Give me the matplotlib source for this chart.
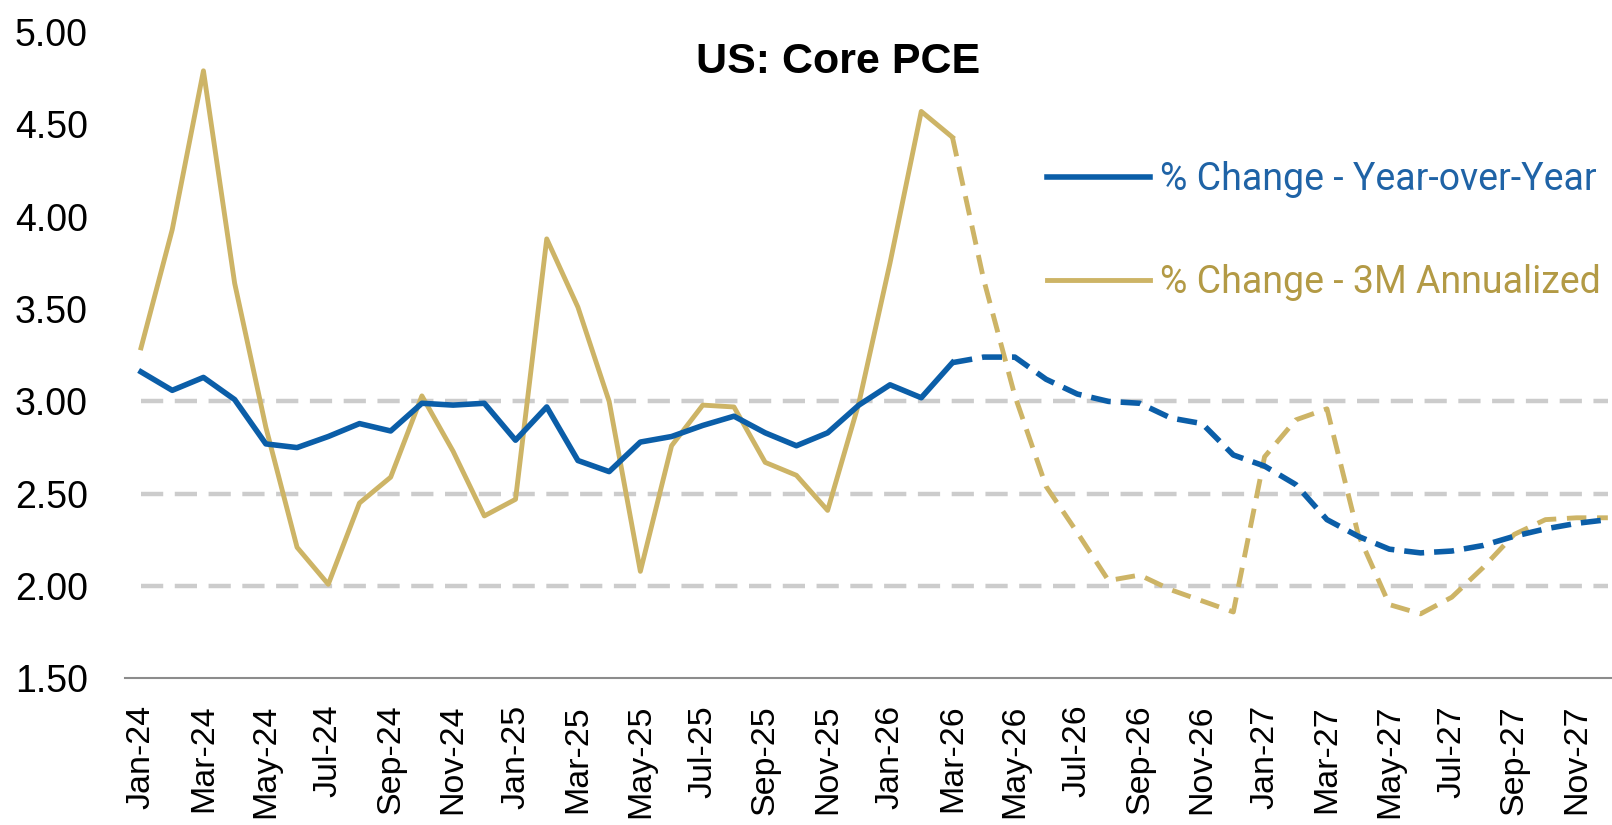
import numpy as np
import matplotlib.pyplot as plt
from matplotlib.lines import Line2D

# monthly labels Jan-24 .. Dec-27
months = ["Jan-24", "Feb-24", "Mar-24", "Apr-24", "May-24", "Jun-24", "Jul-24", "Aug-24",
          "Sep-24", "Oct-24", "Nov-24", "Dec-24", "Jan-25", "Feb-25", "Mar-25", "Apr-25",
          "May-25", "Jun-25", "Jul-25", "Aug-25", "Sep-25", "Oct-25", "Nov-25", "Dec-25",
          "Jan-26", "Feb-26", "Mar-26", "Apr-26", "May-26", "Jun-26", "Jul-26", "Aug-26",
          "Sep-26", "Oct-26", "Nov-26", "Dec-26", "Jan-27", "Feb-27", "Mar-27", "Apr-27",
          "May-27", "Jun-27", "Jul-27", "Aug-27", "Sep-27", "Oct-27", "Nov-27", "Dec-27"]

yoy = [3.16, 3.06, 3.13, 3.01, 2.77, 2.75, 2.81, 2.88, 2.84, 2.99, 2.98, 2.99,
       2.79, 2.97, 2.68, 2.62, 2.78, 2.81, 2.87, 2.92, 2.83, 2.76, 2.83, 2.98,
       3.09, 3.02, 3.21, 3.24, 3.24, 3.12, 3.04, 3.00, 2.99, 2.91, 2.88, 2.71,
       2.65, 2.55, 2.36, 2.27, 2.20, 2.18, 2.19, 2.22, 2.27, 2.31, 2.34, 2.36]

ann3m = [3.29, 3.93, 4.79, 3.64, 2.86, 2.21, 2.01, 2.45, 2.59, 3.03, 2.73, 2.38,
         2.47, 3.88, 3.51, 3.00, 2.08, 2.76, 2.98, 2.97, 2.67, 2.60, 2.41, 2.99,
         3.75, 4.57, 4.43, 3.66, 3.03, 2.54, 2.29, 2.03, 2.06, 1.98, 1.92, 1.86,
         2.70, 2.90, 2.96, 2.28, 1.90, 1.85, 1.94, 2.10, 2.28, 2.36, 2.37, 2.37]

last_actual = "Mar-26"
grid_levels = [2.0, 2.5, 3.0]
yticks = [1.5, 2.0, 2.5, 3.0, 3.5, 4.0, 4.5, 5.0]

blue = "#0b5ea8"
gold = "#cdb466"
tick_font = ["Liberation Sans", "DejaVu Sans"]

x = np.arange(len(months))
k = months.index(last_actual)

fig = plt.figure(figsize=(16.12, 8.25), dpi=100)
ax = fig.add_axes([0.0778, 0.1776, 0.9293, 0.7836])

for g in grid_levels:
    ax.plot([x[0], x[-1]], [g, g], color="#cccccc", lw=3.2, dashes=(5, 2.6), zorder=1)

ax.plot(x[:k + 1], ann3m[:k + 1], color=gold, lw=3.5, zorder=2)
ax.plot(x[k:], ann3m[k:], color=gold, lw=3.5, dashes=(4, 2.2), zorder=2)
ax.plot(x[:k + 1], yoy[:k + 1], color=blue, lw=4.0, zorder=3)
ax.plot(x[k:], yoy[k:], color=blue, lw=4.0, dashes=(3.6, 1.8), zorder=3)

ax.set_xlim(-0.5, len(months) - 0.5)
ax.set_ylim(1.5, 5.0)
ax.set_yticks(yticks)
ax.set_yticklabels(["%.2f" % v for v in yticks], family=tick_font, fontsize=27)
ax.set_xticks(x[::2])
ax.set_xticklabels(months[::2], rotation=90, family=tick_font, fontsize=24.5)
ax.tick_params(axis="both", length=0)
ax.tick_params(axis="y", pad=27)
ax.tick_params(axis="x", pad=19)

for s in ["top", "right", "left"]:
    ax.spines[s].set_visible(False)
ax.spines["bottom"].set_color("#8c8c8c")
ax.spines["bottom"].set_linewidth(1.5)

fig.text(0.52, 0.925, "US: Core PCE", ha="center", va="center",
         family=tick_font, fontweight="bold", fontsize=31)

handles = [Line2D([], [], color=blue, lw=4.0), Line2D([], [], color=gold, lw=3.5)]
leg = fig.legend(handles, ["% Change - Year-over-Year", "% Change - 3M Annualized"],
                 loc="upper left", bbox_to_anchor=(0.638, 0.827), frameon=False,
                 handlelength=2.75, handletextpad=0.25, labelspacing=1.75,
                 borderpad=0, prop={"family": "Roboto", "size": 27})
leg.get_texts()[0].set_color("#1f63a6")
leg.get_texts()[1].set_color("#b39a45")

fig.savefig("out.png", dpi=100, facecolor="white")
